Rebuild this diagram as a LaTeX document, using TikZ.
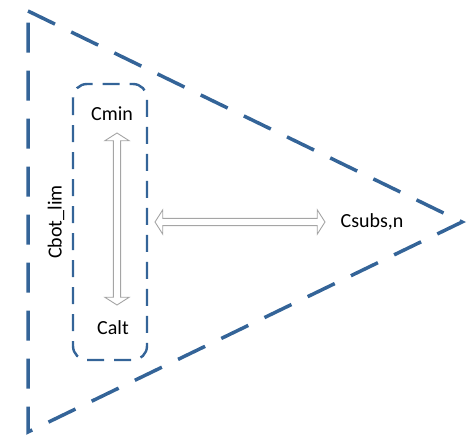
\documentclass[tikz,border=0pt]{standalone}
\usepackage{fontspec}
\setmainfont{Carlito}
\usetikzlibrary{shapes.arrows,calc}
\definecolor{dblue}{RGB}{52,100,152}
\definecolor{agray}{RGB}{165,165,165}
\tikzset{
  tri/.style={draw=dblue, line width=3.5pt, dash pattern=on 30pt off 18pt},
  box/.style={draw=dblue, line width=2.4pt, dash pattern=on 17pt off 10pt, rounded corners=14pt},
  lbl/.style={font=\fontsize{20}{24}\selectfont, inner sep=1pt},
  dbl/.style={double arrow, draw=agray, fill=white, line width=0.9pt, inner sep=3.2pt,
    minimum width=24pt, double arrow head extend=8.5pt, double arrow tip angle=115}
}
\begin{document}
\begin{tikzpicture}[x=1pt,y=-1pt]
\useasboundingbox (0,0) rectangle (473,436);
\coordinate (tl) at (28,11);
\coordinate (bl) at (28,432);
\coordinate (ap) at (462,222);
\draw[tri] (tl) -- (ap) -- (bl) -- cycle;
\draw[box] (73,84) rectangle (147,360);
\node[lbl] (cmin) at (112,114) {Cmin};
\node[lbl] (calt) at (113,328) {Calt};
\node[lbl] (csubs) at (372,222) {Csubs,n};
\node[lbl, rotate=90] (cbot) at (56,222) {Cbot\_lim};
\node[dbl, rotate=90, minimum height=172pt] (va) at (117,219) {};
\node[dbl, minimum height=170pt] (ha) at (240,222) {};
\end{tikzpicture}
\end{document}
